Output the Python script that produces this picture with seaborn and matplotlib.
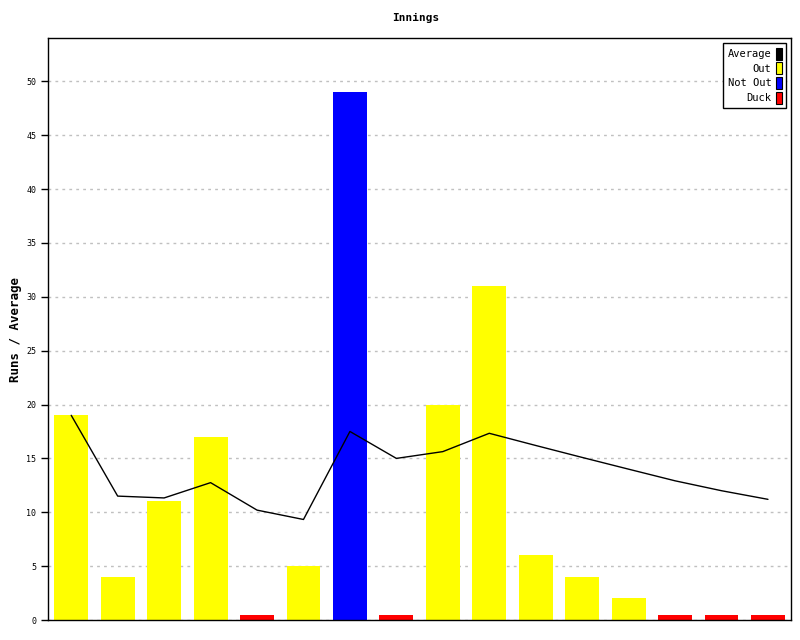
import numpy as np
import pandas as pd
import seaborn as sns
import matplotlib.pyplot as plt
from matplotlib.patches import Patch

innings = list(range(1, 17))
runs = [19, 4, 11, 17, 0, 5, 49, 0, 20, 31, 6, 4, 2, 0, 0, 0]
result = ["Out", "Out", "Out", "Out", "Duck", "Out", "Not Out", "Duck",
          "Out", "Out", "Out", "Out", "Out", "Duck", "Duck", "Duck"]
average = [19, 11.5, 11.33, 12.75, 10.2, 9.33, 17.5, 15, 15.63, 17.33,
           16.2, 15.09, 14, 12.92, 12, 11.2]

colors = {"Average": "#000000", "Out": "#ffff00", "Not Out": "#0000ff", "Duck": "#ff0000"}

df = pd.DataFrame({"innings": innings, "runs": runs, "result": result})
# ducks are drawn as a thin sliver so they stay visible
df["height"] = np.where(df["runs"] == 0, 0.45, df["runs"])

sns.set_style("white")
plt.rcParams["font.family"] = ["DejaVu Sans Mono"]
plt.rcParams["text.color"] = "black"
plt.rcParams["axes.labelcolor"] = "black"
plt.rcParams["ytick.color"] = "black"

fig = plt.figure(figsize=(8, 6.4), dpi=100)
ax = fig.add_axes([0.06, 0.03125, 0.929, 0.909])

sns.barplot(data=df, x="innings", y="height", hue="result", palette=colors,
            dodge=False, width=0.73, saturation=1, legend=False, linewidth=0, ax=ax)
sns.lineplot(x=np.arange(len(average)), y=average, color="black", linewidth=1, ax=ax)

ax.set_xlim(-0.5, len(innings) - 0.5)
ax.set_ylim(0, 54)
ax.set_yticks(range(0, 51, 5))
ax.tick_params(axis="y", labelsize=6, length=5, width=1, direction="out", left=True)
ax.set_xticks([])
ax.set_xlabel("")
ax.set_ylabel("Runs / Average", fontsize=9, fontweight="bold", labelpad=3)
ax.yaxis.grid(True, color="#c0c0c0", linestyle=(0, (2, 3)), linewidth=1)
ax.set_axisbelow(True)
for s in ax.spines.values():
    s.set_color("black")
    s.set_linewidth(1)

fig.text(0.52, 0.972, "Innings", ha="center", va="center", fontsize=8, fontweight="bold")

handles = [Patch(facecolor=colors[k], edgecolor="black", linewidth=0.8) for k in colors]
leg = ax.legend(handles, list(colors), loc="upper right", markerfirst=False,
                fontsize=7.5, handlelength=0.6, handleheight=1.4, handletextpad=0.4,
                labelspacing=0.25, borderpad=0.4, fancybox=False, framealpha=1,
                edgecolor="black", borderaxespad=0.5)
leg.get_frame().set_linewidth(1)

fig.savefig("out.png", dpi=100)
